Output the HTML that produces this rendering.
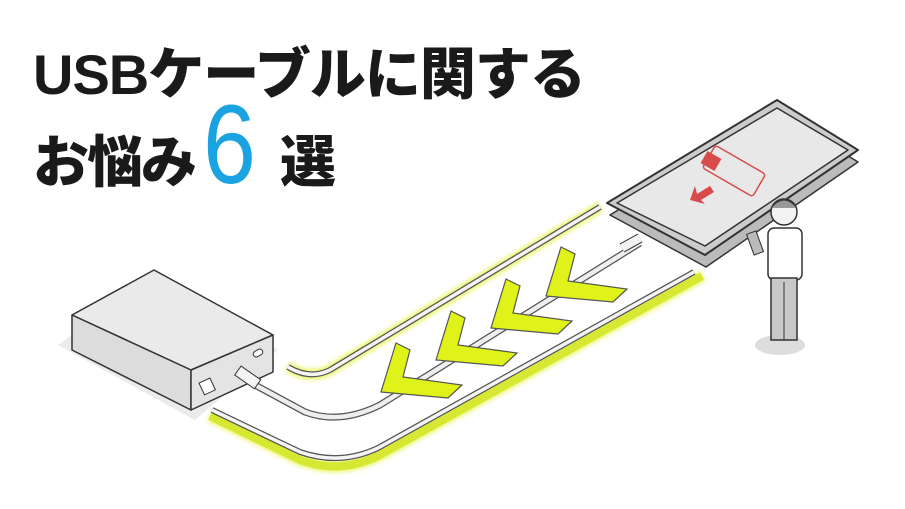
<!DOCTYPE html>
<html><head><meta charset="utf-8">
<style>
html,body{margin:0;padding:0;background:#fff;}
body{width:905px;height:509px;overflow:hidden;position:relative;font-family:"Liberation Sans","Noto Sans CJK JP",sans-serif;}
.t{position:absolute;font-weight:900;color:#1a1a1a;white-space:nowrap;}
svg{position:absolute;left:0;top:0;}
</style></head><body>
<svg width="905" height="509" viewBox="0 0 905 509">
<defs>
<filter id="g" x="-20%" y="-20%" width="140%" height="140%"><feGaussianBlur stdDeviation="2.5"/></filter>
<g id="chev"><polygon points="396,343 410,350 403,377 462,385 448,398 381,392"/></g>
</defs>
<path d="M600 207 L330 370 Q310 380 288 367" fill="none" stroke="#e8f55a" stroke-width="10" filter="url(#g)"/>
<path d="M600 207 L330 370 Q310 380 288 367" fill="none" stroke="#555" stroke-width="6"/>
<path d="M600 207 L330 370 Q310 380 288 367" fill="none" stroke="#f4f4f4" stroke-width="3.5"/>
<path d="M210 416 L300 460 Q340 475 380 455 L702 276" fill="none" stroke="#e8f55a" stroke-width="11" filter="url(#g)"/>
<path d="M210 416 L300 460 Q340 475 380 455 L702 276" fill="none" stroke="#d6e832" stroke-width="8"/>
<path d="M212 410 L300 452 Q340 466 378 448 L694 272" fill="none" stroke="#555" stroke-width="6"/>
<path d="M212 410 L300 452 Q340 466 378 448 L694 272" fill="none" stroke="#f4f4f4" stroke-width="3.5"/>
<path d="M255 385 L305 412 Q340 425 380 405 L640 243" fill="none" stroke="#555" stroke-width="7"/>
<path d="M255 385 L305 412 Q340 425 380 405 L640 243" fill="none" stroke="#eee" stroke-width="4.5"/>
<g fill="#dff21a" stroke="#555" stroke-width="1.2">
<use href="#chev"/>
<use href="#chev" transform="translate(55,-32)"/>
<use href="#chev" transform="translate(110,-64)"/>
<use href="#chev" transform="translate(165,-96)"/>
</g>
<!-- power bank -->
<polygon points="58,345 154,275 278,350 195,420" fill="#ddd" opacity="0.6"/>
<polygon points="72,315 154,270 273,335 191,370" fill="#eaeaea" stroke="#333" stroke-width="1.5" stroke-linejoin="round"/>
<polygon points="72,315 191,370 191,410 72,350" fill="#dcdcdc" stroke="#333" stroke-width="1.5" stroke-linejoin="round"/>
<polygon points="191,370 273,335 273,372 191,410" fill="#e4e4e4" stroke="#333" stroke-width="1.5" stroke-linejoin="round"/>
<rect x="201" y="380" width="12" height="13" fill="#fff" stroke="#333" transform="rotate(-25 207 386)"/>
<rect x="253" y="350" width="10" height="6" rx="3" fill="#fff" stroke="#333" transform="rotate(-30 258 353)"/>
<rect x="236" y="372" width="24" height="11" fill="#f4f4f4" stroke="#333" transform="rotate(35 248 377)"/>
<!-- phone -->
<polygon points="610,215 777,112 858,162 706,267" fill="#bbb" stroke="#333" stroke-width="1.5" stroke-linejoin="round"/>
<polygon points="607,203 777,100 858,150 705,255" fill="#ccc" stroke="#333" stroke-width="2" stroke-linejoin="round"/>
<polygon points="617,203 777,108 848,150 705,246" fill="#e8e8e8" stroke="#333" stroke-width="1.5" stroke-linejoin="round"/>
<rect x="705" y="158" width="58" height="26" rx="3" fill="none" stroke="#d94a4a" stroke-width="1.5" transform="rotate(30 734 171)"/>
<rect x="703" y="154" width="16" height="14" fill="#d94a4a" transform="rotate(30 711 161)"/>
<polygon points="690,200 695,186 697,194 710,186 714,192 701,200 705,204" fill="#d94a4a"/>
<path d="M622 248 L640 238" stroke="#333" stroke-width="10"/>
<path d="M622 248 L640 238" stroke="#f2f2f2" stroke-width="8"/>
<!-- person -->
<ellipse cx="780" cy="345" rx="25" ry="10" fill="#ddd"/>
<circle cx="784" cy="212" r="13" fill="#f3f3f3" stroke="#333" stroke-width="1.5"/>
<path d="M771 208 Q784 192 797 208" fill="#999" stroke="#333"/>
<rect x="768" y="228" width="34" height="52" rx="6" fill="#fff" stroke="#333" stroke-width="1.5"/>
<rect x="771" y="278" width="26" height="62" fill="#c8c8c8" stroke="#333" stroke-width="1.5"/>
<path d="M784 282 L784 340" stroke="#333"/>
<rect x="750" y="232" width="10" height="22" fill="#bbb" stroke="#333" transform="rotate(-20 755 243)"/>
</svg>
<div class="t" style="left:33px;top:30px;font-size:56px;letter-spacing:-1px;">USBケーブルに関する</div>
<div class="t" style="left:33px;top:118px;font-size:56px;letter-spacing:-2px;">お悩み</div>
<div class="t" style="left:203px;top:80px;font-size:112px;color:#1aa3e0;font-weight:400;transform:scaleX(0.85);transform-origin:left;">6</div>
<div class="t" style="left:280px;top:118px;font-size:56px;">選</div>
</body></html>
